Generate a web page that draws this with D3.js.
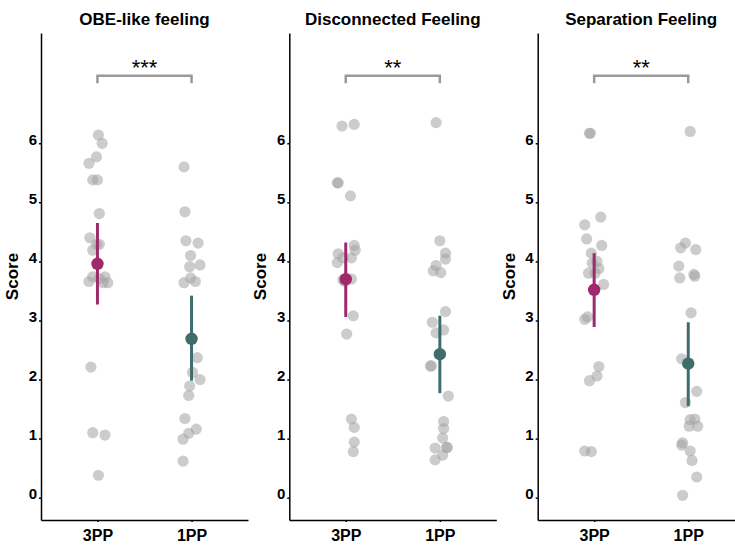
<!DOCTYPE html>
<html>
<head>
<meta charset="utf-8">
<script src="https://cdn.jsdelivr.net/npm/d3@7"></script>
<style>
  html, body { margin: 0; padding: 0; background: #fff; }
  svg { display: block; font-family: "Liberation Sans", Arial, sans-serif; }
</style>
</head>
<body>
<svg id="chart" width="735" height="545"></svg>
<script>
// ---------- data ----------
const panelTitles = ["OBE-like feeling", "Disconnected Feeling", "Separation Feeling"];
const conditions = ["3PP", "1PP"];
const significance = ["***", "**", "**"];
const yTicks = [0, 1, 2, 3, 4, 5, 6];

// individual scores (jitter in category-step units)
const obe3PP = [6.14, 6.00, 5.77, 5.66, 5.38, 5.38, 4.81, 4.40, 4.29, 4.29, 4.19, 3.74, 3.74, 3.71, 3.66, 3.64, 3.64, 2.21, 1.10, 1.06, 0.38];
const obe3PPJitter = [0.01, 0.05, -0.01, -0.09, -0.05, 0.00, 0.02, -0.08, -0.01, 0.02, -0.05, -0.05, 0.08, 0.02, -0.09, 0.06, 0.11, -0.07, -0.05, 0.08, 0.01];
const obe1PP = [5.60, 4.84, 4.35, 4.31, 4.10, 3.94, 3.91, 3.72, 3.64, 3.66, 2.37, 2.12, 2.00, 1.89, 1.73, 1.34, 1.09, 1.16, 0.99, 0.62];
const obe1PPJitter = [-0.08, -0.07, -0.06, 0.07, -0.01, 0.09, -0.02, -0.01, -0.08, 0.04, 0.06, 0.01, 0.09, -0.02, -0.03, -0.07, -0.03, 0.05, -0.09, -0.09];

const dis3PP = [6.29, 6.32, 5.33, 5.33, 5.11, 4.27, 4.19, 4.13, 4.06, 4.06, 3.98, 3.69, 3.70, 3.66, 3.08, 2.77, 1.33, 1.19, 0.94, 0.78];
const dis3PPJitter = [-0.04, 0.09, -0.09, -0.08, 0.05, 0.09, 0.10, -0.08, -0.03, 0.06, -0.09, -0.03, 0.06, -0.01, 0.08, 0.01, 0.06, 0.09, 0.09, 0.08];
const dis1PP = [6.35, 4.35, 4.14, 4.04, 3.93, 3.84, 3.81, 3.15, 2.97, 2.79, 2.84, 2.23, 2.23, 1.72, 1.29, 1.17, 1.01, 0.84, 0.85, 0.85, 0.72, 0.64];
const dis1PPJitter = [-0.04, 0.00, 0.06, 0.06, -0.04, -0.07, 0.01, 0.06, -0.08, -0.04, 0.04, -0.10, -0.09, 0.09, 0.04, 0.04, 0.03, -0.05, 0.08, 0.07, 0.03, -0.05];

const sep3PP = [6.17, 6.17, 4.75, 4.62, 4.38, 4.27, 4.14, 3.97, 4.00, 3.88, 3.80, 3.80, 3.61, 3.02, 3.06, 2.22, 2.06, 1.98, 0.79, 0.78];
const sep3PPJitter = [-0.05, -0.04, 0.07, -0.10, -0.08, 0.08, -0.03, -0.02, 0.03, 0.05, -0.06, 0.01, 0.10, -0.10, -0.07, 0.05, 0.03, -0.05, -0.10, -0.03];
const sep1PP = [6.20, 4.31, 4.23, 4.20, 3.92, 3.72, 3.78, 3.75, 3.13, 2.35, 1.80, 1.61, 1.32, 1.33, 1.21, 1.21, 0.93, 0.89, 0.79, 0.63, 0.35, 0.04];
const sep1PPJitter = [0.02, -0.03, -0.08, 0.08, -0.10, -0.09, 0.06, 0.07, 0.03, -0.07, 0.09, -0.03, 0.02, 0.07, 0.01, 0.10, -0.06, -0.07, 0.02, 0.04, 0.09, -0.06];

// means and error-bar limits, per panel: [3PP, 1PP]
const means = [[3.96, 2.69], [3.70, 2.43], [3.52, 2.27]];
const lower = [[3.27, 1.98], [3.06, 1.77], [2.89, 1.55]];
const upper = [[4.65, 3.42], [4.32, 3.08], [4.14, 2.97]];
const condColors = ["#9e2a6d", "#3f6d6c"];

const scores = [[obe3PP, obe1PP], [dis3PP, dis1PP], [sep3PP, sep1PP]];
const jitters = [[obe3PPJitter, obe1PPJitter], [dis3PPJitter, dis1PPJitter], [sep3PPJitter, sep1PPJitter]];

// ---------- layout ----------
const svg = d3.select("#chart");
const panelLeft = [41, 289.3, 537.7];
const panelWidth = 207;
const yTop = 33, yBottom = 520;

const y = d3.scaleLinear().domain([-0.378, 7.867]).range([yBottom, yTop]);
const x = d3.scalePoint().domain(conditions).range([0, panelWidth]).padding(0.6);

panelTitles.forEach((title, p) => {
  const g = svg.append("g").attr("transform", `translate(${panelLeft[p]},0)`);

  // title
  g.append("text")
    .attr("x", panelWidth / 2).attr("y", 25)
    .attr("text-anchor", "middle")
    .attr("font-size", 17).attr("font-weight", "bold")
    .attr("fill", "#000")
    .text(title);

  // y axis
  const yAxis = g.append("g")
    .call(d3.axisLeft(y).tickValues(yTicks).tickFormat(d3.format("d")).tickSize(2).tickPadding(2).tickSizeOuter(0));
  yAxis.select(".domain").attr("stroke", "#000").attr("stroke-width", 1.5);
  yAxis.selectAll(".tick line").attr("stroke", "#000").attr("stroke-width", 1.5);
  yAxis.selectAll(".tick text")
    .attr("font-size", 15).attr("font-weight", "bold")
    .attr("font-family", "Liberation Sans, Arial, sans-serif")
    .attr("fill", "#000").attr("dy", "0.05em");

  // x axis
  const xAxis = g.append("g").attr("transform", `translate(0,${yBottom})`)
    .call(d3.axisBottom(x).tickSize(2).tickPadding(8).tickSizeOuter(0));
  xAxis.select(".domain").attr("stroke", "#000").attr("stroke-width", 1.5);
  xAxis.selectAll(".tick line").attr("stroke", "#000").attr("stroke-width", 1.5);
  xAxis.selectAll(".tick text")
    .attr("font-size", 16).attr("font-weight", "bold")
    .attr("font-family", "Liberation Sans, Arial, sans-serif")
    .attr("fill", "#000");

  // y label
  g.append("text")
    .attr("transform", `translate(-23,${(yTop + yBottom) / 2}) rotate(-90)`)
    .attr("text-anchor", "middle")
    .attr("font-size", 17).attr("font-weight", "bold")
    .attr("fill", "#000")
    .text("Score");

  // individual points
  conditions.forEach((c, ci) => {
    const vals = scores[p][ci];
    const jit = jitters[p][ci];
    g.append("g").selectAll("circle")
      .data(vals.map((v, i) => ({ v, j: jit[i] })))
      .join("circle")
      .attr("cx", d => x(c) + d.j * x.step())
      .attr("cy", d => y(d.v))
      .attr("r", 5.6)
      .attr("fill", "#a3a3a3")
      .attr("fill-opacity", 0.55);
  });

  // error bars and means
  conditions.forEach((c, ci) => {
    g.append("line")
      .attr("x1", x(c)).attr("x2", x(c))
      .attr("y1", y(lower[p][ci])).attr("y2", y(upper[p][ci]))
      .attr("stroke", condColors[ci]).attr("stroke-width", 3);
    g.append("circle")
      .attr("cx", x(c)).attr("cy", y(means[p][ci]))
      .attr("r", 6.2)
      .attr("fill", condColors[ci]);
  });

  // significance bracket
  const bracketY = 75.7, bracketDrop = 7.6;
  const x1 = x(conditions[0]), x2 = x(conditions[1]);
  g.append("path")
    .attr("d", `M${x1},${bracketY + bracketDrop} V${bracketY} H${x2} V${bracketY + bracketDrop}`)
    .attr("fill", "none").attr("stroke", "#9a9a9a").attr("stroke-width", 2.5);
  g.append("text")
    .attr("x", (x1 + x2) / 2).attr("y", 75)
    .attr("text-anchor", "middle")
    .attr("font-size", 22)
    .attr("fill", "#000")
    .text(significance[p]);
});
</script>
</body>
</html>
